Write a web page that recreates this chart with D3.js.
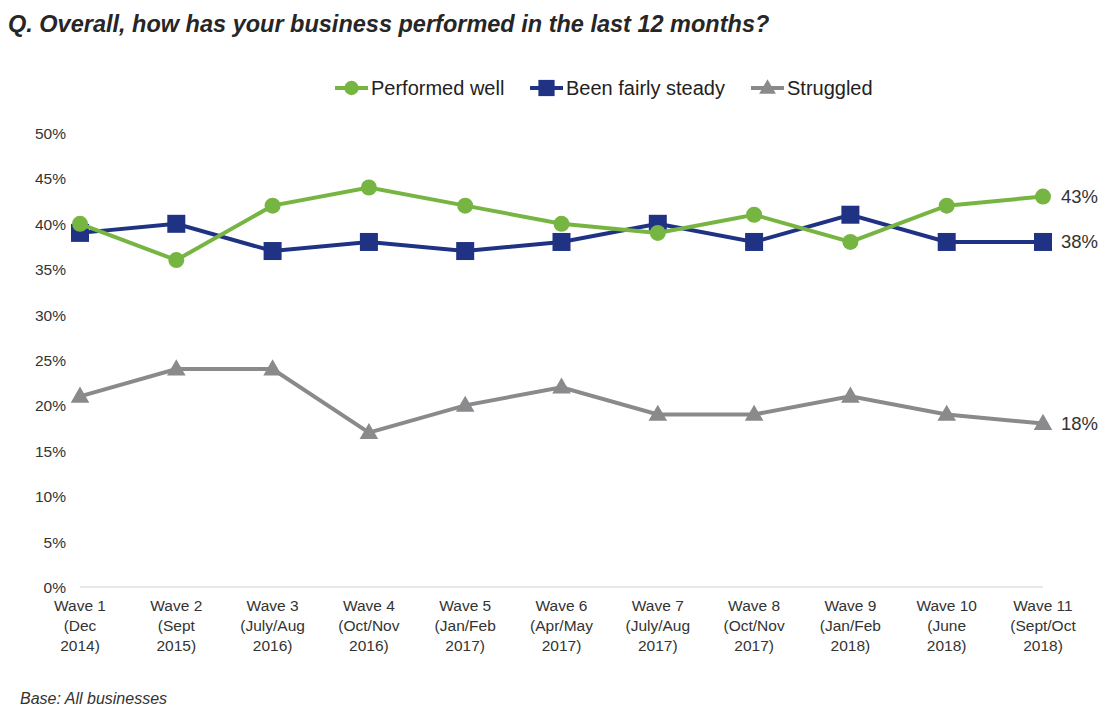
<!DOCTYPE html>
<html>
<head>
<meta charset="utf-8">
<script src="https://cdn.jsdelivr.net/npm/d3@7"></script>
<style>
  html, body { margin: 0; padding: 0; background: #fff; }
  svg { display: block; font-family: "Liberation Sans", Arial, sans-serif; }
</style>
</head>
<body>
<svg id="chart" width="1104" height="707"></svg>
<script>
// Survey waves (x categories), each with two label lines beneath the wave name
const waves = ["Wave 1", "Wave 2", "Wave 3", "Wave 4", "Wave 5", "Wave 6", "Wave 7", "Wave 8", "Wave 9", "Wave 10", "Wave 11"];
const waveDates = [
  ["(Dec", "2014)"], ["(Sept", "2015)"], ["(July/Aug", "2016)"], ["(Oct/Nov", "2016)"],
  ["(Jan/Feb", "2017)"], ["(Apr/May", "2017)"], ["(July/Aug", "2017)"], ["(Oct/Nov", "2017)"],
  ["(Jan/Feb", "2018)"], ["(June", "2018)"], ["(Sept/Oct", "2018)"]
];

// Share of businesses (%) per wave
const performedWell = [40, 36, 42, 44, 42, 40, 39, 41, 38, 42, 43];
const fairlySteady  = [39, 40, 37, 38, 37, 38, 40, 38, 41, 38, 38];
const struggled     = [21, 24, 24, 17, 20, 22, 19, 19, 21, 19, 18];

const yTicks = [0, 5, 10, 15, 20, 25, 30, 35, 40, 45, 50];

const series = [
  { name: "Performed well",      values: performedWell, color: "#77B543", marker: "circle" },
  { name: "Been fairly steady",  values: fairlySteady,  color: "#1F3283", marker: "square" },
  { name: "Struggled",           values: struggled,     color: "#8A8A8C", marker: "triangle" }
];

const svg = d3.select("#chart");

const x = d3.scalePoint().domain(waves).range([80, 1043]);
const y = d3.scaleLinear().domain([0, 50]).range([587, 133]);

// Title
svg.append("text")
  .attr("x", 8).attr("y", 32)
  .attr("font-size", 23.5).attr("font-weight", "bold").attr("font-style", "italic")
  .attr("fill", "#262626")
  .text("Q. Overall, how has your business performed in the last 12 months?");

// Y axis labels (no axis line, no gridlines)
const yAxis = d3.axisLeft(y).tickValues(yTicks).tickFormat(d => d + "%").tickSize(0).tickPadding(0);
const yg = svg.append("g").attr("transform", "translate(66,0)").call(yAxis);
yg.select(".domain").remove();
yg.selectAll("text").attr("font-size", 15.5).attr("fill", "#333").attr("font-family", "Liberation Sans, Arial, sans-serif").attr("dy", "0.35em");

// Baseline
svg.append("line")
  .attr("x1", 80).attr("x2", 1043)
  .attr("y1", y(0)).attr("y2", y(0))
  .attr("stroke", "#d0d0d0").attr("stroke-width", 1);

// X axis labels
const xg = svg.append("g");
waves.forEach((w, i) => {
  const t = xg.append("text")
    .attr("x", x(w)).attr("y", 611)
    .attr("text-anchor", "middle").attr("font-size", 15.5).attr("fill", "#333");
  t.append("tspan").attr("x", x(w)).attr("dy", 0).text(w);
  t.append("tspan").attr("x", x(w)).attr("dy", 20).text(waveDates[i][0]);
  t.append("tspan").attr("x", x(w)).attr("dy", 20).text(waveDates[i][1]);
});

function drawMarker(g, type, cx, cy, color, scale) {
  const s = scale || 1;
  if (type === "circle") {
    g.append("circle").attr("cx", cx).attr("cy", cy).attr("r", 8 * s).attr("fill", color);
  } else if (type === "square") {
    const h = 9 * s;
    g.append("rect").attr("x", cx - h).attr("y", cy - h).attr("width", 2 * h).attr("height", 2 * h).attr("fill", color);
  } else {
    const sym = d3.symbol().type(d3.symbolTriangle).size(150 * s * s);
    g.append("path").attr("d", sym()).attr("transform", `translate(${cx},${cy + 1})`).attr("fill", color);
  }
}

const line = d3.line().x((d, i) => x(waves[i])).y(d => y(d));

// Draw series, bottom-most first so green sits over navy
[series[2], series[1], series[0]].forEach(s => {
  const g = svg.append("g");
  g.append("path").datum(s.values)
    .attr("d", line).attr("fill", "none")
    .attr("stroke", s.color).attr("stroke-width", 4);
  s.values.forEach((v, i) => drawMarker(g, s.marker, x(waves[i]), y(v), s.color));
});

// End-of-line value labels
series.forEach(s => {
  const last = s.values[s.values.length - 1];
  svg.append("text")
    .attr("x", 1061).attr("y", y(last)).attr("dy", "0.35em")
    .attr("font-size", 18.5).attr("fill", "#333")
    .text(last + "%");
});

// Legend
const legendItems = [
  { s: series[0], x0: 335 },
  { s: series[1], x0: 530 },
  { s: series[2], x0: 751 }
];
legendItems.forEach(({ s, x0 }) => {
  const g = svg.append("g");
  g.append("line").attr("x1", x0).attr("x2", x0 + 33).attr("y1", 88).attr("y2", 88)
    .attr("stroke", s.color).attr("stroke-width", 4);
  drawMarker(g, s.marker, x0 + 16.5, 88, s.color, 0.9);
  g.append("text").attr("x", x0 + 36).attr("y", 88).attr("dy", "0.35em")
    .attr("font-size", 20).attr("fill", "#222").text(s.name);
});

// Footnote
svg.append("text")
  .attr("x", 20).attr("y", 704)
  .attr("font-size", 16).attr("font-style", "italic").attr("fill", "#333")
  .text("Base: All businesses");
</script>
</body>
</html>
